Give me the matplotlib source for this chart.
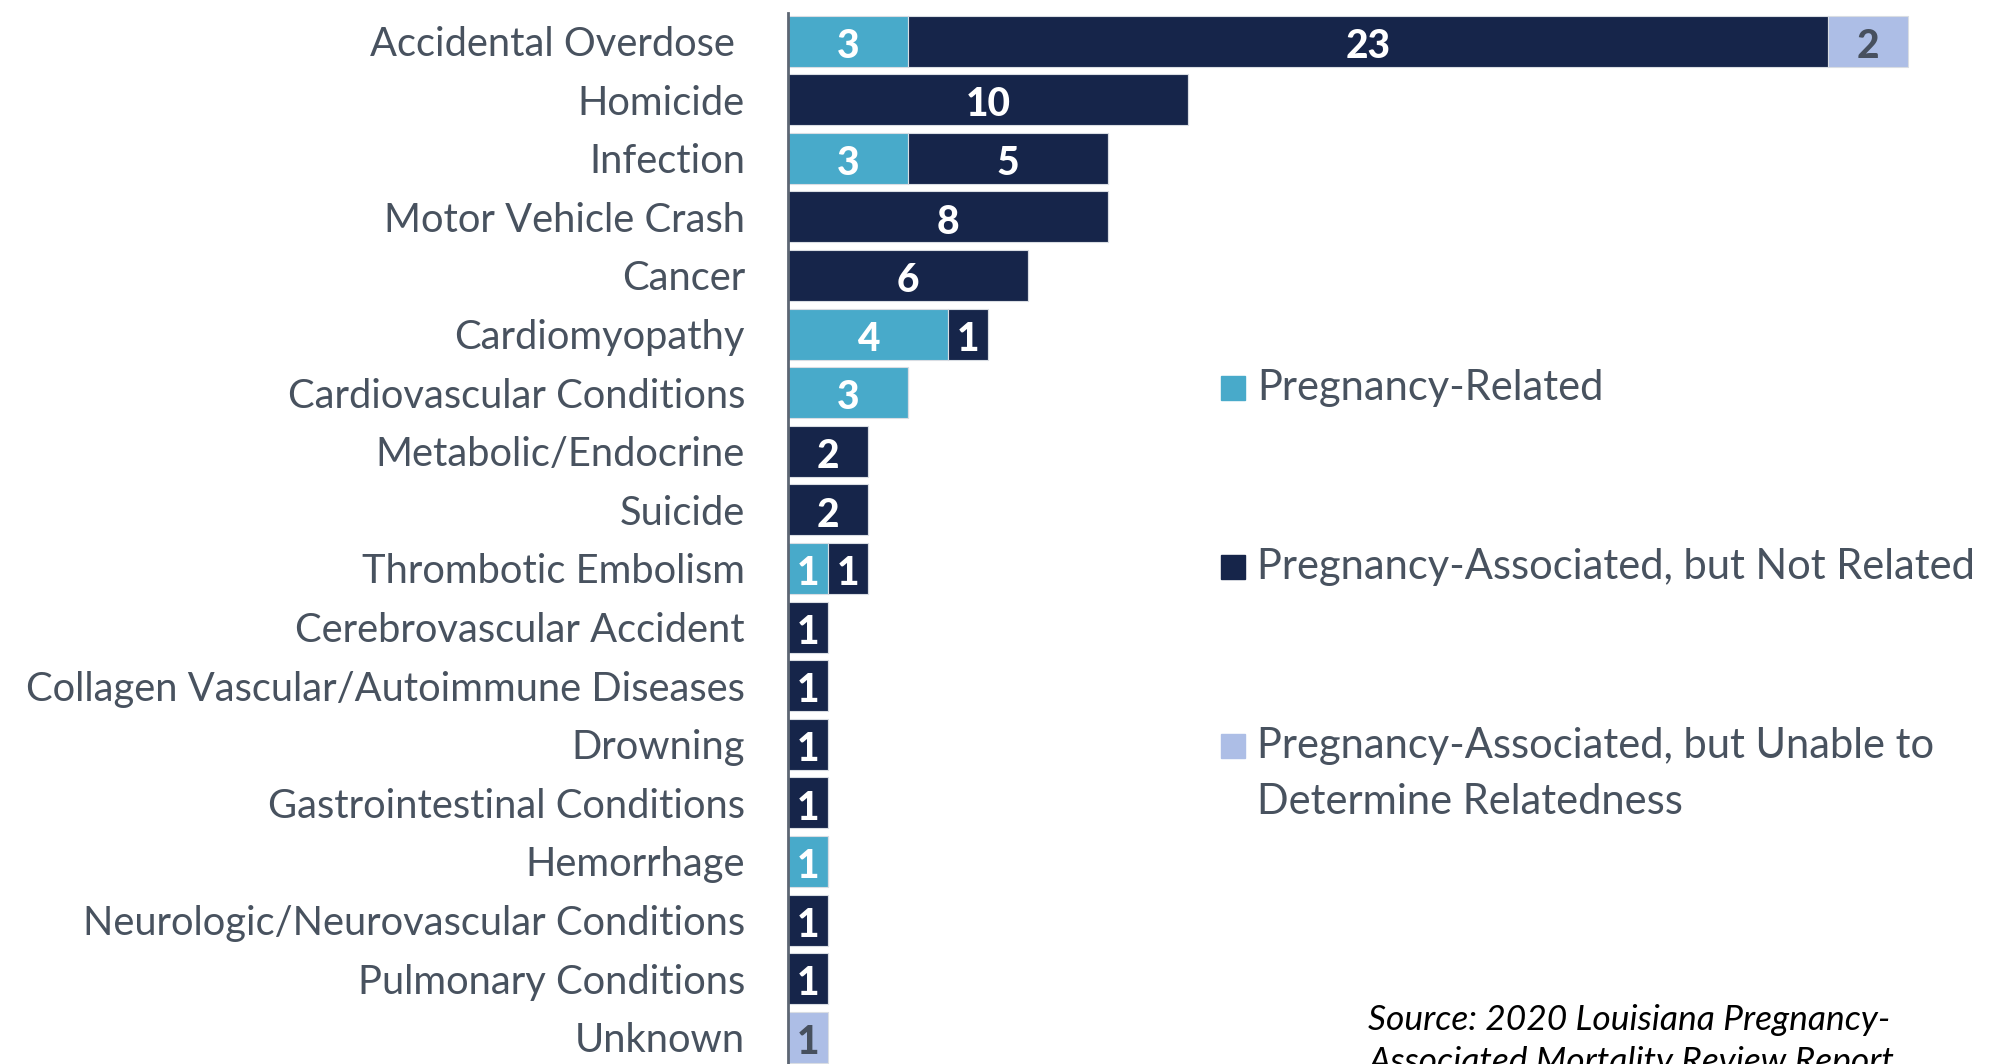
import matplotlib
matplotlib.use("Agg")
import matplotlib.pyplot as plt
import numpy as np
from matplotlib.patches import Rectangle

plt.rcParams["font.family"] = ["Lato", "DejaVu Sans"]

categories = [
    "Accidental Overdose ", "Homicide", "Infection", "Motor Vehicle Crash",
    "Cancer", "Cardiomyopathy", "Cardiovascular Conditions",
    "Metabolic/Endocrine", "Suicide", "Thrombotic Embolism",
    "Cerebrovascular Accident", "Collagen Vascular/Autoimmune Diseases",
    "Drowning", "Gastrointestinal Conditions", "Hemorrhage",
    "Neurologic/Neurovascular Conditions", "Pulmonary Conditions", "Unknown",
]
related = [3, 0, 3, 0, 0, 4, 3, 0, 0, 1, 0, 0, 0, 0, 1, 0, 0, 0]
not_related = [23, 10, 5, 8, 6, 1, 0, 2, 2, 1, 1, 1, 1, 1, 0, 1, 1, 0]
unable = [2, 0, 0, 0, 0, 0, 0, 0, 0, 0, 0, 0, 0, 0, 0, 0, 0, 1]

series_names = [
    "Pregnancy-Related",
    "Pregnancy-Associated, but Not Related",
    "Pregnancy-Associated, but Unable to\nDetermine Relatedness",
]
colors = ["#48AACA", "#16254A", "#ADBEE6"]
text_colors = ["white", "white", "#47505E"]
label_gray = "#48525F"

W, H = 2005, 1064
fig = plt.figure(figsize=(W / 100, H / 100), dpi=100)

# axes placed in pixel terms: x0 at 788px, 40 px per unit; rows 58.6 px apart
row = 58.6
ylo, yhi = -0.7, 17.7
ax_h = (yhi - ylo) * row
ax = fig.add_axes([788 / W, (H - ax_h) / H, 1200 / W, ax_h / H])
ax.set_xlim(0, 30)
ax.set_ylim(yhi, ylo)

y = np.arange(len(categories))
left = np.zeros(len(categories))
for vals, c, tc in zip([related, not_related, unable], colors, text_colors):
    vals = np.array(vals)
    ax.barh(y, vals, left=left, height=0.87, color=c, edgecolor="#d9dde3",
            linewidth=0.8)
    for yi, v, l in zip(y, vals, left):
        if v > 0:
            ax.text(l + v / 2, yi + 0.03, str(v), ha="center",
                    va="center_baseline", color=tc, fontsize=28,
                    fontweight="black")
    left = left + vals

ax.set_yticks(y)
ax.set_yticklabels(categories, fontsize=28.7, color=label_gray)
ax.tick_params(axis="y", length=0, pad=31)
ax.set_xticks([])
for s in ["top", "right", "bottom"]:
    ax.spines[s].set_visible(False)
ax.spines["left"].set_color("#5d6673")
ax.spines["left"].set_linewidth(2)
ax.spines["left"].set_bounds(-0.48, yhi)

# legend drawn by hand to keep the wide spacing
leg_y = [388, 567, 746]
for name, c, ly in zip(series_names, colors, leg_y):
    fig.patches.append(Rectangle((1221 / W, (H - ly - 12) / H), 24 / W, 24 / H,
                                 transform=fig.transFigure, color=c))
    fig.text(1257 / W, (H - ly) / H, name.split("\n")[0], fontsize=30,
             color=label_gray, va="center")
    if "\n" in name:
        fig.text(1257 / W, (H - ly - 56) / H, name.split("\n")[1],
                 fontsize=30, color=label_gray, va="center")

fig.text(1368 / W, (H - 1020) / H, "Source: 2020 Louisiana Pregnancy-",
         fontsize=25.5, style="italic", color="black", va="center")
fig.text(1368 / W, (H - 1062) / H, "Associated Mortality Review Report",
         fontsize=25.5, style="italic", color="black", va="center")

fig.savefig("out.png", dpi=100)
